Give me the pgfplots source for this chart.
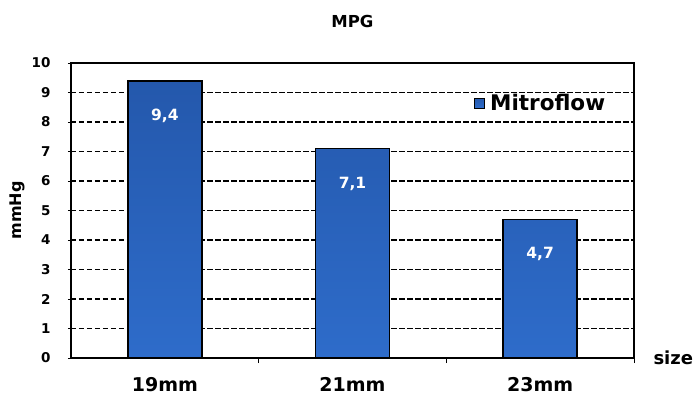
\documentclass[border=0pt]{standalone}
\usepackage{fontspec}
\setmainfont{DejaVu Sans}
\usepackage{pgfplots}
\pgfplotsset{compat=1.18}

\definecolor{bartop}{RGB}{36,88,172}
\definecolor{barbot}{RGB}{46,108,202}
\definecolor{barmid}{RGB}{42,100,190}

\begin{document}
\begin{tikzpicture}
  \begin{axis}[
    scale only axis,
    width=563pt, height=295pt,
    ybar, bar width=74pt,
    ymin=0, ymax=10, ytick={0,...,10},
    xmin=-0.5, xmax=2.5,
    xtick={0,1,2},
    xticklabels={19mm,21mm,23mm},
    xtick pos=lower, ytick pos=left,
    major x tick style={draw=none},
    extra x ticks={0.5,1.5,2.5},
    extra x tick labels={},
    extra x tick style={major tick length=5pt, tick align=outside, grid=none,
      major x tick style={draw=black}},
    ymajorgrids,
    major grid style={black, line width=1.2pt, dash pattern=on 5.5pt off 2.5pt},
    tick align=outside, major tick length=3pt,
    axis line style={black, line width=1.3pt},
    every tick/.style={black, line width=0.8pt},
    tick label style={font=\bfseries},
    yticklabel style={font=\fontsize{13.5}{13.5}\selectfont\bfseries, xshift=-14pt},
    xticklabel style={font=\fontsize{19}{19}\selectfont\bfseries, yshift=-13pt},
    /pgf/number format/assume math mode=true,
    title={MPG},
    title style={font=\fontsize{16.5}{16.5}\selectfont\bfseries, yshift=26pt},
    ylabel={mmHg},
    ylabel style={font=\fontsize{16}{16}\selectfont\bfseries, yshift=0pt},
    xlabel={size},
    xlabel style={font=\fontsize{18}{18}\selectfont\bfseries, at={(rel axis cs:1,0)}, anchor=west, xshift=16pt},
    legend style={at={(0.715,0.864)}, anchor=west, draw=none, fill=none,
      font=\fontsize{21.5}{21.5}\selectfont\bfseries, inner sep=0pt},
    legend image code/.code={\draw[#1, draw=black, line width=0.8pt] (0pt,-5pt) rectangle (10pt,5pt);
      \path[draw=none, fill=none] (0pt,0pt) -- (14pt,0pt);},
    nodes near coords,
    nodes near coords style={font=\fontsize{15.5}{15.5}\selectfont\bfseries, white,
      anchor=north, yshift=-24pt,
      /pgf/number format/.cd, fixed, precision=1, fixed zerofill, use comma},
  ]
    \addplot[draw=black, line width=1.7pt, top color=bartop, bottom color=barbot, fill=barmid]
      coordinates {(0,9.4) (1,7.1) (2,4.7)};
    \addlegendentry{Mitroflow}
    \coordinate (bl) at (rel axis cs:0,0);
    \coordinate (tr) at (rel axis cs:1,1);
  \end{axis}
  \pgfresetboundingbox
  \path ([shift={(-71pt,-50pt)}]bl) rectangle ([shift={(65pt,63pt)}]tr);
\end{tikzpicture}
\end{document}
